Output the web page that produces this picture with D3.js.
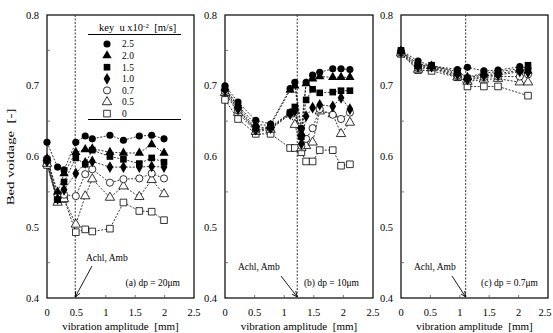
<!DOCTYPE html>
<html><head><meta charset="utf-8">
<script src="https://cdn.jsdelivr.net/npm/d3@7"></script>
<style>
body{margin:0;background:#fff}
svg{display:block}
text{font-family:"Liberation Serif","Times New Roman",serif;fill:#000}
</style>
</head><body>
<svg id="chart" width="553" height="333"></svg>
<script>
// ---------- data ----------
const keys = ["2.5","2.0","1.5","1.0","0.7","0.5","0"];
const shapes = ["circle","triangle","square","diamond","circle","triangle","square"];
const filled = [true,true,true,true,false,false,false];
const yTicks = [0.4,0.5,0.6,0.7,0.8];
const yTickLabels = ["0.4","0.5","0.6","0.7","0.8"];
const yMinorTicks = [0.45,0.55,0.65,0.75];
const xTicks = [0,0.5,1,1.5,2,2.5];
const xTickLabels = ["0","0.5","1","1.5","2","2.5"];

// (a) dp = 20 um
const xA = [0, 0.18, 0.29, 0.49, 0.65, 0.77, 1.07, 1.30, 1.57, 1.78, 1.99];
const voidA25 = [0.620, 0.585, 0.581, 0.620, 0.629, 0.625, 0.630, 0.623, 0.629, 0.630, 0.625];
const voidA20 = [0.597, 0.550, 0.576, 0.606, 0.610, 0.611, 0.606, 0.605, 0.605, 0.617, 0.605];
const voidA15 = [0.595, 0.539, 0.564, 0.598, 0.589, 0.609, 0.600, 0.596, 0.590, 0.598, 0.592];
const voidA10 = [0.593, 0.540, 0.553, 0.576, 0.591, 0.593, 0.585, 0.585, 0.585, 0.586, 0.585];
const voidA07 = [0.597, 0.545, 0.546, 0.544, 0.575, 0.582, 0.563, 0.568, 0.569, 0.576, 0.569];
const voidA05 = [0.590, 0.535, 0.540, 0.504, 0.544, 0.568, 0.542, 0.558, 0.543, 0.567, 0.547];
const voidA00 = [0.588, 0.538, 0.540, 0.493, 0.497, 0.494, 0.498, 0.535, 0.523, 0.522, 0.510];

// (b) dp = 10 um
const xB = [0, 0.22, 0.52, 0.77, 1.10, 1.18, 1.29, 1.37, 1.48, 1.60, 1.82, 1.96, 2.11];
const voidB25 = [0.700, 0.677, 0.651, 0.646, 0.696, 0.705, 0.640, 0.705, 0.715, 0.719, 0.724, 0.724, 0.723];
const voidB20 = [0.697, 0.672, 0.645, 0.644, 0.694, 0.700, 0.632, 0.703, 0.710, 0.713, 0.712, 0.712, 0.712];
const voidB15 = [0.696, 0.670, 0.640, 0.642, 0.662, 0.670, 0.628, 0.680, 0.695, 0.690, 0.691, 0.693, 0.693];
const voidB10 = [0.694, 0.667, 0.638, 0.640, 0.660, 0.665, 0.618, 0.657, 0.669, 0.673, 0.671, 0.683, 0.667];
const voidB07 = [0.692, 0.665, 0.637, 0.640, 0.662, 0.665, 0.615, 0.625, 0.640, 0.667, 0.659, 0.653, 0.662];
const voidB05 = [0.690, 0.662, 0.635, 0.638, 0.660, 0.645, 0.612, 0.615, 0.620, 0.664, 0.660, 0.632, 0.648];
const voidB00 = [0.680, 0.653, 0.632, 0.632, 0.612, 0.612, 0.606, 0.593, 0.593, 0.609, 0.609, 0.587, 0.589];

// (c) dp = 0.7 um
const xC = [0, 0.29, 0.52, 0.96, 1.13, 1.41, 1.65, 2.02, 2.16];
const voidC25 = [0.750, 0.735, 0.728, 0.723, 0.726, 0.721, 0.722, 0.727, 0.724];
const voidC20 = [0.749, 0.731, 0.728, 0.720, 0.712, 0.718, 0.720, 0.724, 0.721];
const voidC15 = [0.750, 0.728, 0.729, 0.718, 0.711, 0.716, 0.717, 0.722, 0.729];
const voidC10 = [0.748, 0.727, 0.727, 0.716, 0.709, 0.714, 0.715, 0.720, 0.719];
const voidC07 = [0.747, 0.725, 0.726, 0.714, 0.708, 0.712, 0.713, 0.713, 0.716];
const voidC05 = [0.746, 0.723, 0.725, 0.712, 0.706, 0.709, 0.710, 0.705, 0.705];
const voidC00 = [0.745, 0.722, 0.721, 0.712, 0.699, 0.699, 0.699, null, 0.686];

const panelLabels = ["(a) dp = 20μm", "(b) dp = 10μm", "(c) dp = 0.7μm"];
const achlAmbX = [0.48, 1.22, 1.10];
const annotText = "Achl, Amb";
const xTitle = "vibration amplitude  [mm]";
const yTitle = "Bed voidage  [-]";

// ---------- layout ----------
const svg = d3.select("#chart");
const plotTop = 15, plotBot = 298;
const y = d3.scaleLinear().domain([0.4, 0.8]).range([plotBot, plotTop]);

const panels = [
  {x0: 47, x1: 194, xs: xA, series: [voidA25, voidA20, voidA15, voidA10, voidA07, voidA05, voidA00],
   label: panelLabels[0], dash: achlAmbX[0], labelX: 180, labelY: 286, annX: 86, annY: 261, arrowFrom: [92, 266], legend: true},
  {x0: 225, x1: 373, xs: xB, series: [voidB25, voidB20, voidB15, voidB10, voidB07, voidB05, voidB00],
   label: panelLabels[1], dash: achlAmbX[1], labelX: 359, labelY: 286, annX: 238, annY: 270, arrowFrom: [281, 276]},
  {x0: 401, x1: 548, xs: xC, series: [voidC25, voidC20, voidC15, voidC10, voidC07, voidC05, voidC00],
   label: panelLabels[2], dash: achlAmbX[2], labelX: 538, labelY: 286, annX: 414, annY: 270, arrowFrom: [452, 276]}
];

const symType = {circle: d3.symbolCircle, triangle: d3.symbolTriangle, square: d3.symbolSquare, diamond: d3.symbolDiamond};
const symSize = {circle: 40, triangle: 38, square: 44, diamond: 40};
function symPath(i){ return d3.symbol().type(symType[shapes[i]]).size(symSize[shapes[i]])(); }

svg.append("defs").append("marker")
  .attr("id","arr").attr("viewBox","0 0 10 10").attr("refX",9).attr("refY",5)
  .attr("markerWidth",7).attr("markerHeight",7).attr("orient","auto")
  .append("path").attr("d","M0,1 L9,5 L0,9").attr("fill","none").attr("stroke","#000").attr("stroke-width",1.3);

panels.forEach((p, pi) => {
  const x = d3.scaleLinear().domain([0, 2.5]).range([p.x0, p.x1]);
  const g = svg.append("g");

  g.append("rect").attr("x", p.x0).attr("y", plotTop).attr("width", p.x1 - p.x0).attr("height", plotBot - plotTop)
    .attr("fill", "none").attr("stroke", "#000").attr("stroke-width", 1.2);

  g.selectAll(".ymt").data(yMinorTicks).join("line")
    .attr("x1", p.x0).attr("x2", p.x0 + 3).attr("y1", d => y(d)).attr("y2", d => y(d))
    .attr("stroke", "#555").attr("stroke-width", 0.8);
  g.selectAll(".xt").data(xTicks.slice(1, -1)).join("line")
    .attr("x1", d => x(d)).attr("x2", d => x(d)).attr("y1", plotBot).attr("y2", plotBot - 3)
    .attr("stroke", "#555").attr("stroke-width", 0.8);

  g.selectAll(".ytl").data(yTicks).join("text")
    .attr("x", p.x0 - 8).attr("y", d => y(d) + 3.5).attr("text-anchor", "end")
    .attr("font-size", 10.5).text((d, i) => yTickLabels[i]);
  g.selectAll(".xtl").data(xTicks).join("text")
    .attr("x", d => Math.min(x(d), 545)).attr("y", 316).attr("text-anchor", "middle")
    .attr("font-size", 10.5).text((d, i) => xTickLabels[i]);
  g.append("text").attr("x", (p.x0 + p.x1) / 2).attr("y", 330).attr("text-anchor", "middle")
    .attr("font-size", 11).attr("xml:space", "preserve").text(xTitle);

  g.append("line").attr("x1", x(p.dash)).attr("x2", x(p.dash)).attr("y1", plotTop).attr("y2", plotBot)
    .attr("stroke", "#333").attr("stroke-width", 1).attr("stroke-dasharray", "2,1.5");

  const line = d3.line().x(d => x(d[0])).y(d => y(d[1]));
  p.series.forEach((s) => {
    const pts = p.xs.map((xv, k) => [xv, s[k]]).filter(d => d[1] != null);
    g.append("path").attr("d", line(pts)).attr("fill", "none")
      .attr("stroke", "#000").attr("stroke-width", 0.8).attr("stroke-dasharray", "2,1.5");
  });
  for (let si = p.series.length - 1; si >= 0; si--) {
    const s = p.series[si];
    const pts = p.xs.map((xv, k) => [xv, s[k]]).filter(d => d[1] != null);
    g.selectAll(null).data(pts).join("path")
      .attr("d", symPath(si))
      .attr("transform", d => `translate(${x(d[0])},${y(d[1])})`)
      .attr("fill", filled[si] ? "#000" : "#fff")
      .attr("stroke", "#000").attr("stroke-width", filled[si] ? 0 : 0.8);
  }

  g.append("text").attr("x", p.annX).attr("y", p.annY).attr("font-size", 9.5).text(annotText);
  g.append("line").attr("x1", p.arrowFrom[0]).attr("y1", p.arrowFrom[1])
    .attr("x2", x(p.dash)).attr("y2", plotBot - 1)
    .attr("stroke", "#000").attr("stroke-width", 0.9).attr("marker-end", "url(#arr)");
  g.append("text").attr("x", p.labelX).attr("y", p.labelY).attr("text-anchor", "end")
    .attr("font-size", 9.5).text(p.label);

  if (p.legend) {
    const lg = svg.append("g");
    lg.append("line").attr("x1", 88).attr("x2", 181).attr("y1", 34.5).attr("y2", 34.5).attr("stroke", "#000").attr("stroke-width", 1);
    lg.append("line").attr("x1", 88).attr("x2", 181).attr("y1", 119.5).attr("y2", 119.5).attr("stroke", "#000").attr("stroke-width", 1);
    const hdr = lg.append("text").attr("x", 99).attr("y", 31).attr("font-size", 10.5).attr("xml:space", "preserve");
    hdr.append("tspan").text("key  u x10");
    hdr.append("tspan").attr("dy", -3.5).attr("font-size", 7).text("-2");
    hdr.append("tspan").attr("dy", 3.5).text("  [m/s]");
    keys.forEach((k, i) => {
      const ry = 44 + i * 11.6;
      lg.append("path").attr("d", symPath(i)).attr("transform", `translate(107,${ry})`)
        .attr("fill", filled[i] ? "#000" : "#fff").attr("stroke", "#000").attr("stroke-width", filled[i] ? 0 : 0.8);
      lg.append("text").attr("x", 122).attr("y", ry + 3.3).attr("font-size", 9.5).text(k);
    });
  }
});

svg.append("text")
  .attr("transform", "translate(14,157) rotate(-90) scale(1.35,1)")
  .attr("text-anchor", "middle").attr("font-size", 11).attr("xml:space", "preserve").text(yTitle);
</script>
</body></html>
